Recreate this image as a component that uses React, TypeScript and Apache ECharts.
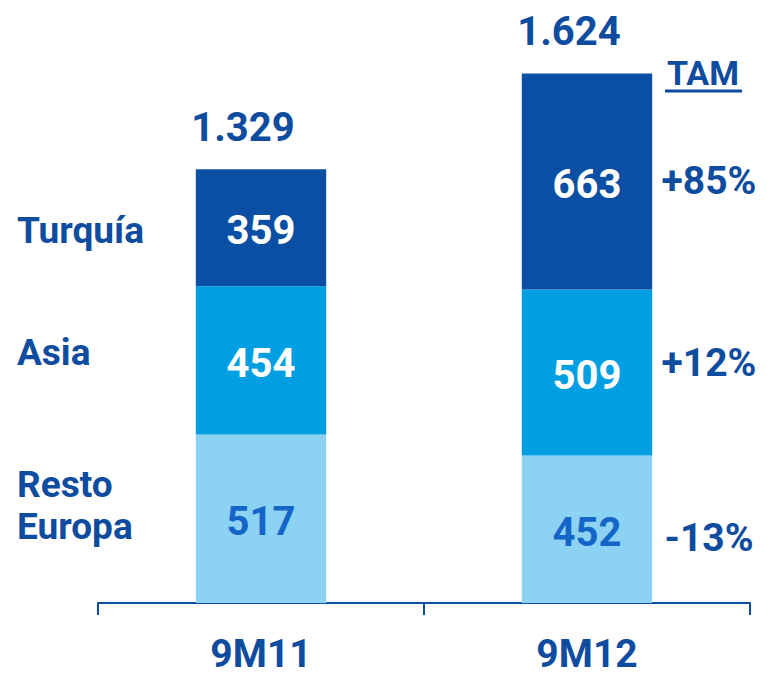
import React, { useEffect, useRef } from "react";
import * as echarts from "echarts";

const categories = ["9M11", "9M12"];
const seriesNames = ["Resto Europa", "Asia", "Turquía"];
const restoEuropa = [517, 452];
const asia = [454, 509];
const turquia = [359, 663];
const totals = [1329, 1624];
const leftLabels = ["Resto\nEuropa", "Asia", "Turquía"];
const tamLabels = ["-13%", "+12%", "+85%"];
const tamTitle = "TAM";

const DARK = "#0a4fa3";
const MID = "#009fe3";
const LIGHT = "#8bd2f3";
const TEXT = "#0d4c9e";
const FONT = "Roboto, sans-serif";

const fmt = (v: number) => {
  const s = String(v);
  return s.length > 3 ? s.slice(0, s.length - 3) + "." + s.slice(s.length - 3) : s;
};

export default function App() {
  const ref = useRef<HTMLDivElement>(null);
  useEffect(() => {
    document.body.style.margin = "0";
    if (!ref.current) return;
    const chart = echarts.init(ref.current, undefined, { renderer: "svg" });
    const values = [restoEuropa, asia, turquia];
    const colors = [LIGHT, MID, DARK];
    const labelColors = ["#1565c8", "#ffffff", "#ffffff"];
    const series: any[] = values.map((arr, i) => ({
      name: seriesNames[i],
      type: "bar",
      stack: "total",
      barWidth: "40%",
      data: arr,
      itemStyle: { color: colors[i] },
      label: {
        show: true,
        position: "inside",
        offset: [0, 3],
        color: labelColors[i],
        fontSize: 40,
        fontWeight: "bold",
        fontFamily: FONT,
      },
    }));
    series.push({
      name: "total",
      type: "bar",
      stack: "total",
      barWidth: "40%",
      data: totals.map(() => 0),
      itemStyle: { color: "transparent" },
      label: {
        show: true,
        position: "top",
        distance: 22,
        offset: [-18, 0],
        color: TEXT,
        fontSize: 40,
        fontWeight: "bold",
        fontFamily: FONT,
        formatter: (p: any) => fmt(totals[p.dataIndex]),
      },
    });
    chart.setOption({
      animation: false,
      grid: { left: 98, right: 17, top: 16, bottom: 73 },
      xAxis: {
        type: "category",
        data: categories,
        axisLine: { lineStyle: { color: DARK, width: 2 } },
        axisTick: { show: true, length: 12, lineStyle: { color: DARK, width: 2 } },
        axisLabel: {
          color: TEXT,
          fontSize: 39,
          fontWeight: "bold",
          fontFamily: FONT,
          margin: 31,
          lineHeight: 39,
        },
      },
      yAxis: { type: "value", min: 0, max: 1800, show: false, splitLine: { show: false } },
      series,
    });

    const leftOffsets = [-13, -8, 3];
    const rightOffsets = [9, -10, -1];
    const graphics: any[] = [];
    let base0 = 0;
    let base1 = 0;
    values.forEach((arr, i) => {
      const mid0 = chart.convertToPixel({ gridIndex: 0 }, [0, base0 + arr[0] / 2]) as number[];
      const mid1 = chart.convertToPixel({ gridIndex: 0 }, [1, base1 + arr[1] / 2]) as number[];
      base0 += arr[0];
      base1 += arr[1];
      graphics.push({
        type: "text",
        x: 17,
        y: mid0[1] + leftOffsets[i],
        style: {
          text: leftLabels[i],
          fill: TEXT,
          font: `bold 37px ${FONT}`,
          verticalAlign: "middle",
          textAlign: "left",
          lineHeight: 42,
        },
      });
      graphics.push({
        type: "text",
        x: 709,
        y: mid1[1] + rightOffsets[i],
        style: {
          text: tamLabels[i],
          fill: TEXT,
          font: `bold 39px ${FONT}`,
          verticalAlign: "middle",
          textAlign: "center",
        },
      });
    });
    graphics.push({
      type: "text",
      x: 703,
      y: 73,
      style: {
        text: tamTitle,
        fill: TEXT,
        font: `bold 34px ${FONT}`,
        verticalAlign: "middle",
        textAlign: "center",
      },
    });
    graphics.push({
      type: "line",
      shape: { x1: 665, y1: 91, x2: 742, y2: 91 },
      style: { stroke: TEXT, lineWidth: 3 },
    });
    chart.setOption({ graphic: graphics });

    return () => chart.dispose();
  }, []);
  return <div ref={ref} style={{ width: 767, height: 676 }} />;
}
